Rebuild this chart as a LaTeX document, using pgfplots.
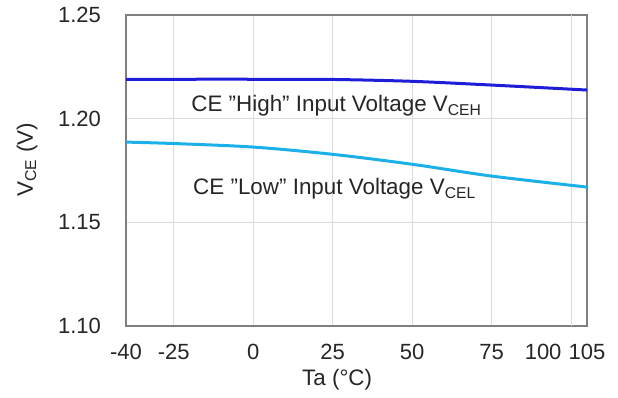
\documentclass[border=0pt]{standalone}
\usepackage{pgfplots}
\pgfplotsset{compat=1.18}
\usepackage{fontspec}
\setmainfont{Liberation Sans}
\definecolor{hiC}{HTML}{1E1ED8}
\definecolor{loC}{HTML}{1CB0E8}
\definecolor{axC}{HTML}{7F7F7F}
\definecolor{grC}{HTML}{DCDCDC}
\definecolor{txC}{HTML}{262626}
\begin{document}
\begin{tikzpicture}
\begin{axis}[
  scale only axis,
  width=230.5pt, height=155.5pt,
  xmin=-40, xmax=105, ymin=1.10, ymax=1.25,
  xtick={-40,-25,0,25,50,75,105},
  extra x ticks={100},
  extra x tick style={grid=major, xticklabel style={xshift=-14pt}},
  ytick={1.10,1.15,1.20,1.25},
  yticklabel style={/pgf/number format/fixed,/pgf/number format/fixed zerofill,/pgf/number format/precision=2, xshift=-9pt},
  xticklabel style={yshift=-5.4pt},
  /pgf/number format/assume math mode=true,
  tick label style={font=\fontsize{11}{13}\selectfont, text=txC},
  major tick length=0pt,
  grid=major,
  major grid style={grC, line width=0.6pt},
  axis line style={axC, line width=0.8pt},
  clip=false,
]
\addplot[hiC, line width=1.5pt, smooth] coordinates {
  (-40,1.2190) (-25,1.2190) (0,1.2190) (25,1.2189) (50,1.2180) (75,1.2162) (105,1.2138)
};
\addplot[loC, line width=1.5pt, smooth] coordinates {
  (-40,1.1887) (-25,1.1880) (0,1.1863) (25,1.1828) (50,1.1780) (75,1.1723) (105,1.1670)
};
\node[anchor=west, inner sep=0pt, font=\fontsize{11.2}{13}\selectfont, text=txC] at (rel axis cs:0.141,0.707) {CE ”High” Input Voltage V\textsubscript{CEH}};
\node[anchor=west, inner sep=0pt, font=\fontsize{11.2}{13}\selectfont, text=txC] at (rel axis cs:0.145,0.4405) {CE ”Low” Input Voltage V\textsubscript{CEL}};
\node[rotate=90, inner sep=0pt, font=\fontsize{11.2}{13}\selectfont, text=txC] at (rel axis cs:-0.2148,0.534) {V\textsubscript{CE} (V)};
\node[inner sep=0pt, font=\fontsize{11.2}{13}\selectfont, text=txC] at (rel axis cs:0.458,-0.174) {Ta (°C)};
\coordinate (bl) at (rel axis cs:-0.2733,-0.2283);
\coordinate (tr) at (rel axis cs:1.0672,1.0482);
\end{axis}
\useasboundingbox (bl) rectangle (tr);
\end{tikzpicture}
\end{document}
